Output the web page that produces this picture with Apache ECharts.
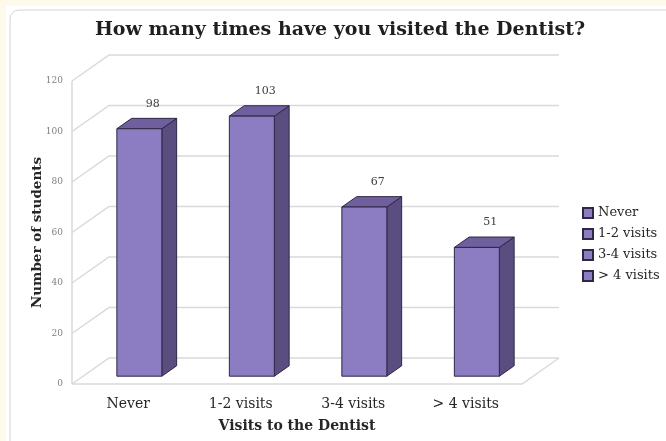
<!DOCTYPE html>
<html>
<head>
<meta charset="utf-8">
<script src="https://cdn.jsdelivr.net/npm/echarts@6/dist/echarts.min.js"></script>
<style>
html,body{margin:0;padding:0;background:#fdfae9;}
#chart{width:666px;height:441px;}
</style>
</head>
<body>
<div id="chart"></div>
<script>
// ---- data ----
const categories = ['Never', '1-2 visits', '3-4 visits', '> 4 visits'];
const students = [98, 103, 67, 51];
const yTicks = [0, 20, 40, 60, 80, 100, 120];
const titleText = 'How many times have you visited the Dentist?';
const xTitle = 'Visits to the Dentist';
const yTitle = 'Number of students';

// ---- style ----
const DX = 37, DY = -26;            // depth of the 3D box
const BAR_POS = 0.3;                // bar front plane, fraction of depth
const BAR_DEPTH = 0.4;              // bar thickness, fraction of depth
const BAR_W = 0.4;                  // bar width, fraction of band
const FRONT = '#8C7CC2', TOP = '#6F5F9E', SIDE = '#5A4D80', EDGE = '#2f2744';
const WALL = '#d9d9d9';
const SERIF = '"DejaVu Serif", "Liberation Serif", serif';

const chart = echarts.init(document.getElementById('chart'), null, {renderer: 'canvas'});

function renderWall(params, api) {
  const cs = params.coordSys;
  const v = api.value(1);
  const y = api.coord([0, v])[1];
  const x0 = cs.x, x1 = cs.x + cs.width;
  const children = [{
    type: 'polyline',
    shape: {points: [[x0, y], [x0 + DX, y + DY], [x1 + DX, y + DY]]},
    style: {stroke: WALL, lineWidth: 1.5, fill: null}
  }];
  if (v === yTicks[0]) {
    children.push({
      type: 'polyline',
      shape: {points: [[x0, y], [x1, y], [x1 + DX, y + DY]]},
      style: {stroke: WALL, lineWidth: 1.5, fill: null}
    });
  }
  if (v === yTicks[yTicks.length - 1]) {
    const yb = api.coord([0, yTicks[0]])[1];
    children.push({
      type: 'line',
      shape: {x1: x0, y1: y, x2: x0, y2: yb},
      style: {stroke: WALL, lineWidth: 1.5}
    });
  }
  return {type: 'group', children};
}

function renderBar(params, api) {
  const idx = api.value(0), v = api.value(1);
  const base = api.coord([idx, 0]);
  const top = api.coord([idx, v]);
  const band = api.size([1, 0])[0];
  const w = band * BAR_W;
  const ox = DX * BAR_POS, oy = DY * BAR_POS;
  const dx = DX * BAR_DEPTH, dy = DY * BAR_DEPTH;
  const x0 = base[0] - w / 2 + ox, x1 = x0 + w;
  const yb = base[1] + oy, yt = top[1] + oy;
  const st = (c) => ({fill: c, stroke: EDGE, lineWidth: 1, lineJoin: 'round'});
  return {
    type: 'group',
    children: [
      {type: 'polygon', shape: {points: [[x1, yt], [x1 + dx, yt + dy], [x1 + dx, yb + dy], [x1, yb]]}, style: st(SIDE)},
      {type: 'polygon', shape: {points: [[x0, yt], [x0 + dx, yt + dy], [x1 + dx, yt + dy], [x1, yt]]}, style: st(TOP)},
      {type: 'polygon', shape: {points: [[x0, yt], [x1, yt], [x1, yb], [x0, yb]]}, style: st(FRONT)},
      {type: 'text', x: (x0 + x1) / 2 + dx / 2 + 6, y: yt - 25,
        style: {text: String(v), textAlign: 'center', textVerticalAlign: 'middle',
          fill: '#404040', font: '11px ' + SERIF}}
    ]
  };
}

const legendSeries = categories.map(name => ({
  name, type: 'bar', data: [],
  itemStyle: {color: FRONT, borderColor: EDGE, borderWidth: 1}
}));

chart.setOption({
  animation: false,
  backgroundColor: '#fdfae9',
  graphic: [
    {type: 'rect', shape: {x: 6, y: 6, width: 700, height: 500}, style: {fill: '#ffffff'}, z: -10, silent: true},
    {type: 'rect', shape: {x: 10, y: 10, width: 700, height: 500, r: 9}, style: {fill: '#ffffff', stroke: '#d4d4d4', lineWidth: 1}, z: -9, silent: true},
    {type: 'text', x: 340, y: 30, style: {text: titleText, textAlign: 'center', textVerticalAlign: 'middle',
      fill: '#1f1f1f', font: 'bold 19px ' + SERIF}}
  ],
  legend: {
    orient: 'vertical', left: 577, top: 201,
    data: categories, icon: 'rect', itemWidth: 10, itemHeight: 10, itemGap: 7,
    textStyle: {fontFamily: SERIF, fontSize: 13, lineHeight: 14, color: '#262626'}
  },
  grid: {left: 72, top: 81, width: 450, height: 303, containLabel: false, outerBoundsMode: 'none'},
  xAxis: {
    type: 'category', data: categories,
    axisLine: {show: false}, axisTick: {show: false},
    axisLabel: {color: '#262626', fontFamily: SERIF, fontSize: 14, margin: 13},
    name: xTitle, nameLocation: 'middle', nameGap: 35, nameMoveOverlap: false,
    nameTextStyle: {color: '#262626', fontFamily: SERIF, fontSize: 14, fontWeight: 'bold'}
  },
  yAxis: {
    type: 'value', min: yTicks[0], max: yTicks[yTicks.length - 1], interval: yTicks[1] - yTicks[0],
    axisLine: {show: false}, axisTick: {show: false}, splitLine: {show: false},
    axisLabel: {color: '#7f7f7f', fontFamily: SERIF, fontSize: 9, margin: 9},
    name: yTitle, nameLocation: 'middle', nameGap: 28, nameRotate: 90, nameMoveOverlap: false,
    nameTextStyle: {color: '#262626', fontFamily: SERIF, fontSize: 13.5, fontWeight: 'bold'}
  },
  series: [
    {type: 'custom', name: 'wall', renderItem: renderWall, clip: false, silent: true, z: 1,
      data: yTicks.map(v => [0, v])},
    {type: 'custom', name: 'bars', renderItem: renderBar, clip: false, z: 2,
      data: students.map((v, i) => [i, v])},
    ...legendSeries
  ]
});
</script>
</body>
</html>
